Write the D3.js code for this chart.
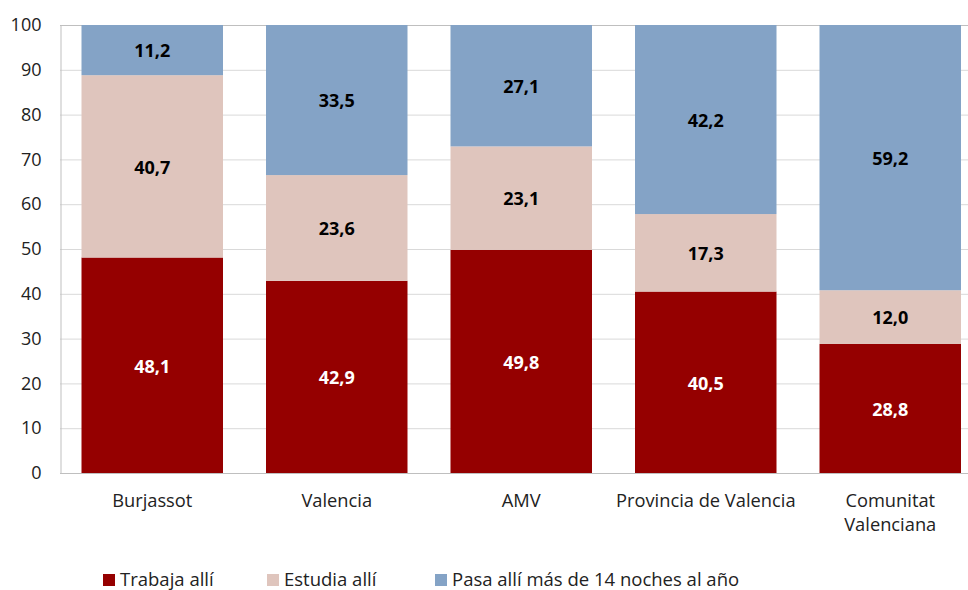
<!DOCTYPE html>
<html>
<head>
<meta charset="utf-8">
<script src="https://d3js.org/d3.v7.min.js"></script>
<style>
  body { margin: 0; background: #fff; }
  svg { font-family: "Open Sans", sans-serif; }
</style>
</head>
<body>
<svg id="chart" width="968" height="590"></svg>
<script>
    // Data
    var categories = ["Burjassot", "Valencia", "AMV", "Provincia de Valencia", "Comunitat Valenciana"];
    var trabaja = [48.1, 42.9, 49.8, 40.5, 28.8];
    var estudia = [40.7, 23.6, 23.1, 17.3, 12.0];
    var pasa = [11.2, 33.5, 27.1, 42.2, 59.2];
    var seriesNames = ["Trabaja allí", "Estudia allí", "Pasa allí más de 14 noches al año"];
    var yTicks = [0, 10, 20, 30, 40, 50, 60, 70, 80, 90, 100];

    var colors = ["#950000", "#dfc5bd", "#84a3c6"];
    var labelColors = ["#fff", "#000", "#000"];

    var svg = d3.select("#chart");

    var plotLeft = 60, plotTop = 25, plotBottom = 473;

    var x = d3.scaleBand()
        .domain(categories)
        .range([plotLeft, plotLeft + 184.5 * 5])
        .paddingInner(43 / 184.5)
        .paddingOuter(21.5 / 184.5);

    var y = d3.scaleLinear()
        .domain([0, 100])
        .range([plotBottom, plotTop]);

    // Gridlines
    svg.append("g")
        .selectAll("line")
        .data(yTicks.filter(function(d) { return d > 0; }))
        .enter().append("line")
        .attr("x1", plotLeft)
        .attr("x2", 968)
        .attr("y1", function(d) { return y(d) + 0.5; })
        .attr("y2", function(d) { return y(d) + 0.5; })
        .attr("stroke", function(d) { return d === 100 ? "#bfbfbf" : "#d9d9d9"; })
        .attr("stroke-width", 1);

    // Stack the series
    var rows = categories.map(function(c, i) {
        return { cat: c, s0: trabaja[i], s1: estudia[i], s2: pasa[i] };
    });
    var stacked = d3.stack().keys(["s0", "s1", "s2"])(rows);

    stacked.forEach(function(layer, li) {
        var g = svg.append("g");
        g.selectAll("rect")
            .data(layer)
            .enter().append("rect")
            .attr("x", function(d) { return x(d.data.cat); })
            .attr("width", x.bandwidth())
            .attr("y", function(d) { return y(d[1]); })
            .attr("height", function(d) { return y(d[0]) - y(d[1]); })
            .attr("fill", colors[li]);

        g.selectAll("text")
            .data(layer)
            .enter().append("text")
            .attr("x", function(d) { return x(d.data.cat) + x.bandwidth() / 2; })
            .attr("y", function(d) { return (y(d[0]) + y(d[1])) / 2 + 1; })
            .attr("dy", "0.35em")
            .attr("text-anchor", "middle")
            .attr("font-size", 18)
            .attr("font-weight", "bold")
            .attr("fill", labelColors[li])
            .text(function(d) { return (d[1] - d[0]).toFixed(1).replace(".", ","); });
    });

    // Y axis
    var yAxis = svg.append("g")
        .attr("transform", "translate(" + (plotLeft + 0.5) + ",0)")
        .call(d3.axisLeft(y).tickValues(yTicks).tickSize(0).tickPadding(19));
    yAxis.select(".domain").attr("stroke", "#bfbfbf");
    yAxis.selectAll("text").attr("font-size", 18).attr("fill", "#222").attr("font-family", "Open Sans");

    // X axis line
    svg.append("line")
        .attr("x1", plotLeft).attr("x2", 968)
        .attr("y1", plotBottom + 0.5).attr("y2", plotBottom + 0.5)
        .attr("stroke", "#bfbfbf");

    // Category labels (wrap the long one)
    var xLabels = { "Comunitat Valenciana": ["Comunitat", "Valenciana"] };
    categories.forEach(function(c) {
        var lines = xLabels[c] || [c];
        var t = svg.append("text")
            .attr("x", x(c) + x.bandwidth() / 2)
            .attr("y", 507)
            .attr("text-anchor", "middle")
            .attr("font-size", 18.3)
            .attr("fill", "#222");
        lines.forEach(function(l, i) {
            t.append("tspan")
                .attr("x", x(c) + x.bandwidth() / 2)
                .attr("dy", i === 0 ? 0 : 24)
                .text(l);
        });
    });

    // Legend
    var legendX = [103, 267, 435];
    var legend = svg.append("g");
    seriesNames.forEach(function(n, i) {
        legend.append("rect")
            .attr("x", legendX[i]).attr("y", 574)
            .attr("width", 12).attr("height", 12)
            .attr("fill", colors[i]);
        legend.append("text")
            .attr("x", legendX[i] + 17).attr("y", 586)
            .attr("font-size", 18.5)
            .attr("fill", "#222")
            .text(n);
    });
</script>
</body>
</html>
